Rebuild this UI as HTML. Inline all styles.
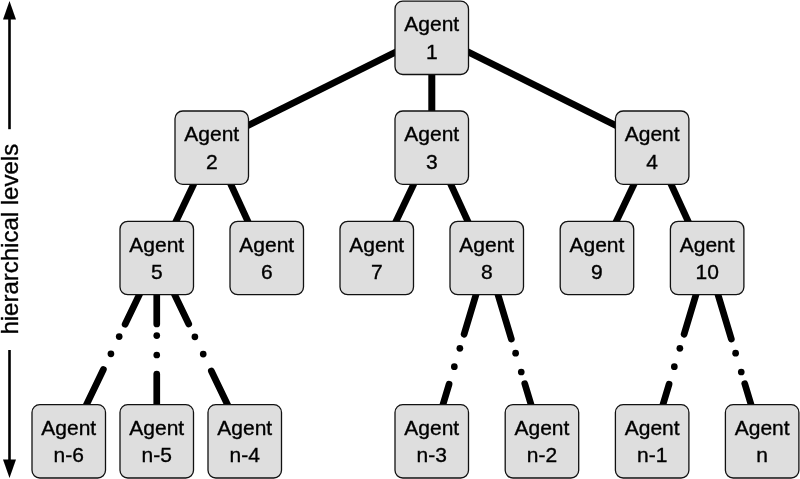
<!DOCTYPE html>
<html><head><meta charset="utf-8"><style>
html,body{margin:0;padding:0;background:#fff;width:800px;height:479px;overflow:hidden}
svg{display:block;will-change:transform}
text{font-family:"Liberation Sans",sans-serif;font-size:21px;fill:#000;stroke:#000;stroke-width:0.35px;text-anchor:middle}
</style></head><body>
<svg width="800" height="479" viewBox="0 0 800 479">
<line x1="432.00" y1="34.10" x2="212.00" y2="143.40" stroke="#000" stroke-width="6.7" stroke-linecap="butt"/>
<line x1="432.00" y1="34.10" x2="652.00" y2="143.40" stroke="#000" stroke-width="6.7" stroke-linecap="butt"/>
<line x1="431.8" y1="70" x2="431.8" y2="115" stroke="#000" stroke-width="7.0"/>
<line x1="211.00" y1="148.00" x2="158.50" y2="258.00" stroke="#000" stroke-width="6.7" stroke-linecap="butt"/>
<line x1="214.10" y1="148.00" x2="264.70" y2="258.00" stroke="#000" stroke-width="6.7" stroke-linecap="butt"/>
<line x1="431.00" y1="148.00" x2="378.50" y2="258.00" stroke="#000" stroke-width="6.7" stroke-linecap="butt"/>
<line x1="434.10" y1="148.00" x2="484.70" y2="258.00" stroke="#000" stroke-width="6.7" stroke-linecap="butt"/>
<line x1="651.30" y1="148.00" x2="598.80" y2="258.00" stroke="#000" stroke-width="6.7" stroke-linecap="butt"/>
<line x1="654.40" y1="148.00" x2="705.00" y2="258.00" stroke="#000" stroke-width="6.7" stroke-linecap="butt"/>
<line x1="157.00" y1="258.00" x2="125.12" y2="324.30" stroke="#000" stroke-width="6.7" stroke-linecap="round"/>
<circle cx="119.20" cy="336.60" r="3.35" fill="#000"/>
<circle cx="110.93" cy="353.80" r="3.35" fill="#000"/>
<line x1="103.38" y1="369.50" x2="69.00" y2="441.00" stroke="#000" stroke-width="6.7" stroke-linecap="round"/>
<line x1="156.75" y1="258.00" x2="156.75" y2="324.00" stroke="#000" stroke-width="6.7" stroke-linecap="round"/>
<circle cx="156.75" cy="335.60" r="3.35" fill="#000"/>
<circle cx="156.75" cy="355.00" r="3.35" fill="#000"/>
<line x1="156.75" y1="374.00" x2="156.75" y2="441.00" stroke="#000" stroke-width="6.7" stroke-linecap="round"/>
<line x1="157.00" y1="258.00" x2="188.74" y2="324.00" stroke="#000" stroke-width="6.7" stroke-linecap="round"/>
<circle cx="194.89" cy="336.80" r="3.35" fill="#000"/>
<circle cx="203.21" cy="354.10" r="3.35" fill="#000"/>
<line x1="211.34" y1="371.00" x2="245.00" y2="441.00" stroke="#000" stroke-width="6.7" stroke-linecap="round"/>
<line x1="487.00" y1="258.00" x2="464.10" y2="334.20" stroke="#000" stroke-width="6.7" stroke-linecap="round"/>
<circle cx="459.86" cy="348.30" r="3.35" fill="#000"/>
<circle cx="454.33" cy="366.70" r="3.35" fill="#000"/>
<line x1="449.07" y1="384.20" x2="432.00" y2="441.00" stroke="#000" stroke-width="6.7" stroke-linecap="round"/>
<line x1="487.00" y1="258.00" x2="511.34" y2="339.00" stroke="#000" stroke-width="6.7" stroke-linecap="round"/>
<circle cx="515.61" cy="353.20" r="3.35" fill="#000"/>
<circle cx="521.26" cy="372.00" r="3.35" fill="#000"/>
<line x1="524.75" y1="383.60" x2="542.00" y2="441.00" stroke="#000" stroke-width="6.7" stroke-linecap="round"/>
<line x1="707.00" y1="258.00" x2="684.10" y2="334.20" stroke="#000" stroke-width="6.7" stroke-linecap="round"/>
<circle cx="679.86" cy="348.30" r="3.35" fill="#000"/>
<circle cx="674.33" cy="366.70" r="3.35" fill="#000"/>
<line x1="669.07" y1="384.20" x2="652.00" y2="441.00" stroke="#000" stroke-width="6.7" stroke-linecap="round"/>
<line x1="707.00" y1="258.00" x2="731.34" y2="339.00" stroke="#000" stroke-width="6.7" stroke-linecap="round"/>
<circle cx="735.61" cy="353.20" r="3.35" fill="#000"/>
<circle cx="741.26" cy="372.00" r="3.35" fill="#000"/>
<line x1="744.75" y1="383.60" x2="762.00" y2="441.00" stroke="#000" stroke-width="6.7" stroke-linecap="round"/>
<rect x="395" y="1.1" width="73.5" height="73.4" rx="7.8" ry="7.8" fill="#dedede" stroke="#111" stroke-width="1.3"/>
<text x="431.75" y="31.35">Agent</text>
<text x="431.75" y="58.60">1</text>
<rect x="175" y="111.0" width="73.5" height="73.4" rx="7.8" ry="7.8" fill="#dedede" stroke="#111" stroke-width="1.3"/>
<text x="211.75" y="141.25">Agent</text>
<text x="211.75" y="168.50">2</text>
<rect x="395" y="111.0" width="73.5" height="73.4" rx="7.8" ry="7.8" fill="#dedede" stroke="#111" stroke-width="1.3"/>
<text x="431.75" y="141.25">Agent</text>
<text x="431.75" y="168.50">3</text>
<rect x="615.4" y="111.0" width="73.5" height="73.4" rx="7.8" ry="7.8" fill="#dedede" stroke="#111" stroke-width="1.3"/>
<text x="652.15" y="141.25">Agent</text>
<text x="652.15" y="168.50">4</text>
<rect x="120" y="221.3" width="73.5" height="73.4" rx="7.8" ry="7.8" fill="#dedede" stroke="#111" stroke-width="1.3"/>
<text x="156.75" y="251.55">Agent</text>
<text x="156.75" y="278.80">5</text>
<rect x="230" y="221.3" width="73.5" height="73.4" rx="7.8" ry="7.8" fill="#dedede" stroke="#111" stroke-width="1.3"/>
<text x="266.75" y="251.55">Agent</text>
<text x="266.75" y="278.80">6</text>
<rect x="340" y="221.3" width="73.5" height="73.4" rx="7.8" ry="7.8" fill="#dedede" stroke="#111" stroke-width="1.3"/>
<text x="376.75" y="251.55">Agent</text>
<text x="376.75" y="278.80">7</text>
<rect x="450" y="221.3" width="73.5" height="73.4" rx="7.8" ry="7.8" fill="#dedede" stroke="#111" stroke-width="1.3"/>
<text x="486.75" y="251.55">Agent</text>
<text x="486.75" y="278.80">8</text>
<rect x="560.2" y="221.3" width="73.5" height="73.4" rx="7.8" ry="7.8" fill="#dedede" stroke="#111" stroke-width="1.3"/>
<text x="596.95" y="251.55">Agent</text>
<text x="596.95" y="278.80">9</text>
<rect x="670.4" y="221.3" width="73.5" height="73.4" rx="7.8" ry="7.8" fill="#dedede" stroke="#111" stroke-width="1.3"/>
<text x="707.15" y="251.55">Agent</text>
<text x="707.15" y="278.80">10</text>
<rect x="32" y="404.6" width="73.5" height="73.4" rx="7.8" ry="7.8" fill="#dedede" stroke="#111" stroke-width="1.3"/>
<text x="68.75" y="434.85">Agent</text>
<text x="68.75" y="462.10">n-6</text>
<rect x="120" y="404.6" width="73.5" height="73.4" rx="7.8" ry="7.8" fill="#dedede" stroke="#111" stroke-width="1.3"/>
<text x="156.75" y="434.85">Agent</text>
<text x="156.75" y="462.10">n-5</text>
<rect x="208" y="404.6" width="73.5" height="73.4" rx="7.8" ry="7.8" fill="#dedede" stroke="#111" stroke-width="1.3"/>
<text x="244.75" y="434.85">Agent</text>
<text x="244.75" y="462.10">n-4</text>
<rect x="395" y="404.6" width="73.5" height="73.4" rx="7.8" ry="7.8" fill="#dedede" stroke="#111" stroke-width="1.3"/>
<text x="431.75" y="434.85">Agent</text>
<text x="431.75" y="462.10">n-3</text>
<rect x="505.2" y="404.6" width="73.5" height="73.4" rx="7.8" ry="7.8" fill="#dedede" stroke="#111" stroke-width="1.3"/>
<text x="541.95" y="434.85">Agent</text>
<text x="541.95" y="462.10">n-2</text>
<rect x="615.4" y="404.6" width="73.5" height="73.4" rx="7.8" ry="7.8" fill="#dedede" stroke="#111" stroke-width="1.3"/>
<text x="652.15" y="434.85">Agent</text>
<text x="652.15" y="462.10">n-1</text>
<rect x="725.4" y="404.6" width="73.5" height="73.4" rx="7.8" ry="7.8" fill="#dedede" stroke="#111" stroke-width="1.3"/>
<text x="762.15" y="434.85">Agent</text>
<text x="762.15" y="462.10">n</text>
<polygon points="9.5,1 3,19.5 16,19.5" fill="#000"/>
<line x1="9.5" y1="19" x2="9.5" y2="129.2" stroke="#000" stroke-width="2.6"/>
<line x1="9.5" y1="350" x2="9.5" y2="460" stroke="#000" stroke-width="2.6"/>
<polygon points="9.5,478 3,459.5 16,459.5" fill="#000"/>
<text x="0" y="0" transform="translate(17.6,334.6) rotate(-90)" text-anchor="start" style="font-size:24px;text-anchor:start">hierarchical levels</text>
</svg>
</body></html>
